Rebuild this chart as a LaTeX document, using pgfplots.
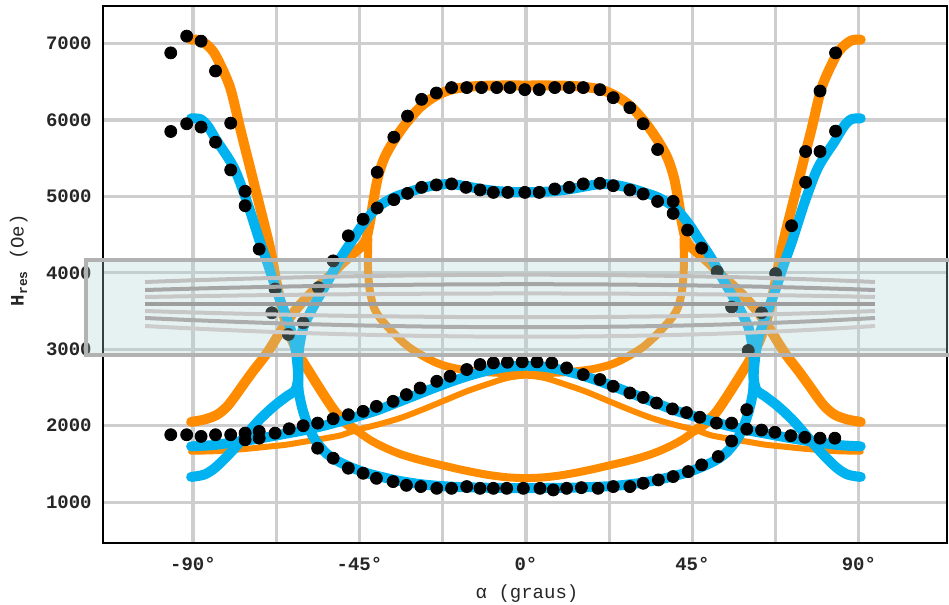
\documentclass[border=0pt]{standalone}
\usepackage{pgfplots}
\pgfplotsset{compat=1.18}
\usepackage{fontspec}
\setmonofont{Liberation Mono}
\definecolor{cor}{RGB}{255,140,0}
\definecolor{cbl}{RGB}{0,178,240}
\definecolor{bandfill}{RGB}{172,212,212}
\definecolor{gridc}{RGB}{206,206,206}
\definecolor{bandline}{RGB}{178,178,178}
\begin{document}
\begin{tikzpicture}
\path[use as bounding box] (-51.35pt,-30.85pt) rectangle (423.15pt,271.65pt);
\begin{axis}[
  scale only axis, width=422.3pt, height=268.65pt,
  xmin=-114.4, xmax=113.9, ymin=462, ymax=7490,
  axis line style={black, line width=0.9pt},
  xtick={-90,-45,0,45,90},
  xticklabels={-90°,-45°,0°,45°,90°},
  minor xtick={-67.5,-22.5,22.5,67.5},
  ytick={1000,2000,3000,4000,5000,6000,7000},
  yticklabels={1000,2000,3000,4000,5000,6000,7000},
  grid=both,
  major grid style={gridc, line width=1.6pt},
  minor grid style={gridc, line width=1.6pt},
  major tick length=0pt, minor tick length=0pt,
  tick label style={font=\ttfamily\bfseries\fontsize{9.5}{11}\selectfont, text=black!85},
  yticklabel style={xshift=-2pt},
  xticklabel style={yshift=-3.5pt},
  xlabel={α (graus)},
  ylabel={{\bfseries H}\raisebox{-0.35ex}{\fontsize{6.5}{7}\selectfont\bfseries res}~(Oe)},
  label style={font=\ttfamily\fontsize{9.5}{11}\selectfont, text=black!85},
  xlabel style={at={(axis description cs:0.5024,-0.093)}, anchor=center},
  ylabel style={at={(axis description cs:-0.0995,0.527)}, anchor=center},
]
% ---------- orange ----------
\addplot[cor, line width=5pt, line cap=round, line join=round, smooth] coordinates {
(-90.5,7050) (-88,7040) (-85.5,6950) (-83.6,6820) (-80,6430) (-77.3,5900) (-74.6,5380) (-71.9,4860) (-69.2,4330) (-67.3,3850) (-65.5,3450) (-63.5,3150) (-61,2900) (-58.5,2700) (-55,2430) (-51.5,2180) (-48.5,2030) (-46,1945)};
\addplot[cor, line width=5pt, line cap=round, line join=round, smooth] coordinates {
(46,1945) (48.5,2030) (51.5,2180) (55,2430) (58.5,2700) (61,2900) (63.5,3150) (65.5,3450) (67.3,3850) (69.2,4330) (71.9,4860) (74.6,5380) (77.3,5900) (80,6430) (83.6,6820) (85.5,6950) (88,7040) (90.5,7050)};
\addplot[cor, line width=3pt, line cap=round, line join=round, smooth] coordinates {
(-46,1945) (-40,2015) (-34,2100) (-28,2210) (-22,2330) (-16,2450) (-10,2550) (-5,2625) (0,2655) (5,2625) (10,2550) (16,2450) (22,2330) (28,2210) (34,2100) (40,2015) (46,1945)};
\addplot[cor, line width=4pt, line cap=round, line join=round, smooth] coordinates {
(-46,1945) (-42,1810) (-38,1710) (-34,1630) (-30,1570) (-26,1520) (-22,1475) (-18,1430) (-14,1390) (-10,1355) (-5,1325) (0,1315) (5,1325) (10,1355) (14,1390) (18,1430) (22,1475) (26,1520) (30,1570) (34,1630) (38,1710) (42,1810) (46,1945)};
\addplot[cor, line width=3pt, line cap=round, line join=round, smooth] coordinates {
(-90.5,1660) (-85,1665) (-80,1680) (-75,1700) (-70,1725) (-65,1750) (-60,1790) (-55,1830) (-50,1875) (-46,1945)};
\addplot[cor, line width=3pt, line cap=round, line join=round, smooth] coordinates {
(46,1945) (50,1875) (55,1830) (60,1790) (65,1750) (70,1725) (75,1700) (80,1680) (85,1665) (90.5,1660)};
\addplot[cor, line width=5pt, line cap=round, line join=round, smooth] coordinates {
(-90.5,2050) (-87,2080) (-83.6,2140) (-81,2240) (-79,2360) (-76.5,2530) (-73.8,2710) (-70,2950) (-65.7,3280) (-62.5,3500) (-59.2,3680) (-56,3830) (-53,3960) (-49.5,4130) (-46,4280) (-43.5,4400) (-42.2,4650) (-41.2,4950) (-40,5250) (-38.3,5500) (-35.8,5720) (-32.5,5950) (-28.5,6170) (-24.5,6310) (-20,6400) (-14,6440) (-7,6450) (0,6450) (7,6450) (14,6440) (20,6400) (24.5,6310) (28.5,6170) (32.5,5950) (35.8,5720) (38.3,5500) (40,5250) (41.2,4950) (42.2,4650) (43.5,4400) (46,4280) (49.5,4130) (53,3960) (56,3830) (59.2,3680) (62.5,3500) (65.7,3280) (70,2950) (73.8,2710) (76.5,2530) (79,2360) (81,2240) (83.6,2140) (87,2080) (90.5,2050)};
\addplot[cor, line width=4pt, line cap=round, line join=round, smooth] coordinates {
(-42.6,4450) (-42.7,4100) (-42.3,3800) (-41.2,3560) (-39.6,3420) (-37.5,3300) (-34.5,3150) (-31.4,3020) (-27,2890) (-23,2800) (-18,2740) (-12,2705) (-6,2690) (0,2688) (6,2690) (12,2705) (18,2740) (23,2800) (27,2890) (31.4,3020) (34.5,3150) (37.5,3300) (39.6,3420) (41.2,3560) (42.3,3800) (42.7,4100) (42.6,4450)};
% ---------- blue ----------
\addplot[cbl, line width=5pt, line cap=round, line join=round, smooth] coordinates {
(-90.5,6020) (-88,6010) (-86,5920) (-83.6,5730) (-79,5380) (-75.5,4945) (-72,4420) (-70,4150) (-68.3,3900) (-66.5,3650) (-64.7,3420) (-63.2,3200) (-62.2,2980) (-61.6,2700) (-61.4,2450) (-60.3,2200) (-58.5,1950) (-56.5,1780) (-54,1640) (-51,1540) (-47,1450) (-43,1380) (-39,1330) (-35,1285) (-30,1245) (-25,1218) (-20,1202) (-14,1192) (-7,1186) (0,1184) (7,1186) (14,1192) (20,1202) (25,1218) (30,1245) (35,1285) (39,1330) (43,1380) (47,1450) (51,1540) (54,1640) (56.5,1780) (58.5,1950) (60.3,2200) (61.4,2450) (61.6,2700) (62.2,2980) (63.2,3200) (64.7,3420) (66.5,3650) (68.3,3900) (70,4150) (72,4420) (75.5,4945) (79,5380) (83.6,5730) (86,5920) (88,6010) (90.5,6020)};
\addplot[cbl, line width=5pt, line cap=round, line join=round, smooth] coordinates {
(-90.5,1330) (-87,1360) (-84,1450) (-80,1640) (-76,1860) (-72,2080) (-68,2260) (-64.5,2390) (-62.3,2470) (-61.5,2650) (-61.6,2850) (-61.2,3050) (-60.2,3281) (-58.5,3460) (-56.6,3631) (-53,3937) (-50,4200) (-47,4420) (-44,4640) (-40.3,4850) (-36,4980) (-32,5050) (-28,5110) (-24,5150) (-20,5160) (-16,5130) (-12,5095) (-8,5070) (-4,5058) (0,5055) (4,5058) (8,5070) (12,5095) (16,5130) (20,5160) (24,5150) (28,5110) (32,5050) (36,4980) (40.3,4850) (44,4640) (47,4420) (50,4200) (53,3937) (56.6,3631) (58.5,3460) (60.2,3281) (61.2,3050) (61.6,2850) (61.5,2650) (62.3,2470) (64.5,2390) (68,2260) (72,2080) (76,1860) (80,1640) (84,1450) (87,1360) (90.5,1330)};
\addplot[cbl, line width=5pt, line cap=round, line join=round, smooth] coordinates {
(-90.5,1730) (-85,1745) (-80,1775) (-75,1810) (-70,1850) (-65,1895) (-60,1940) (-55,1995) (-50,2060) (-45,2130) (-40,2205) (-35,2300) (-30,2395) (-25,2490) (-20,2580) (-15,2660) (-10,2725) (-5,2770) (0,2785) (5,2770) (10,2725) (15,2660) (20,2580) (25,2490) (30,2395) (35,2300) (40,2205) (45,2130) (50,2060) (55,1995) (60,1940) (65,1895) (70,1850) (75,1810) (80,1775) (85,1745) (90.5,1730)};
% ---------- data ----------
\addplot[only marks, mark=*, mark size=3pt, black] coordinates {
(-96,6877) (-91.7,7096) (-87.8,7030) (-83.9,6640) (-79.8,5958)
(-96,5849) (-91.7,5950) (-87.8,5906) (-83.9,5709) (-79.8,5346) (-75.9,5066) (-75.9,4878) (-72.1,4310) (-67.8,3788) (-68.7,3477) (-64.2,3194) (-60.2,3346) (-56.1,3806) (-52.1,4156) (-48,4484) (-44,4700) (-40.2,4848) (-35.7,4957) (-32,5039) (-28.2,5118) (-24.2,5150) (-20.1,5163) (-16.2,5118) (-12.4,5084) (-8.8,5052) (-4.9,5052) (-0.3,5052) (3.6,5052) (7.8,5097) (11.7,5118) (15.5,5163) (20,5171) (23.6,5140) (28.1,5084) (31.7,5031) (35.6,4934) (39.8,4934) (39.8,4777) (43.7,4559) (47.5,4323) (51.7,4016) (55.6,3552) (60.1,2984) (63.7,3478) (67.5,3990) (71.8,4616) (75.6,5184) (75.6,5587) (79.5,5587) (83.7,5853)
(-40.2,5315) (-35.7,5774) (-32,6050) (-28.2,6269) (-24.2,6352) (-20.1,6423) (-16,6423) (-12,6423) (-7.9,6423) (-4.3,6423) (-0.3,6396) (3.6,6396) (7.8,6423) (11.7,6423) (15.5,6423) (20,6396) (23.6,6291) (28.1,6160) (31.7,5950) (35.6,5613) (79.5,6378) (83.7,6877)
(-96,1882) (-91.7,1882) (-87.8,1860) (-83.9,1882) (-79.8,1882) (-75.9,1903) (-75.9,1816) (-72.1,1837) (-72.1,1925) (-67.8,1903) (-64,1960) (-60.2,2000) (-56.3,2034) (-52.1,2091) (-48,2144) (-44,2188) (-40.4,2253) (-35.9,2319) (-32.3,2407) (-28.6,2493) (-24.1,2581) (-20.5,2647) (-16,2735) (-12.4,2800) (-8.8,2822) (-5,2830) (-1,2835) (3,2835) (7,2822) (11,2756) (15.5,2669) (20,2604) (23.6,2516) (28.1,2428) (31.7,2370) (35.3,2297) (39.6,2220) (43.4,2172) (47,2111) (51.5,2034) (55.6,2034) (59.7,2210) (59.7,1955) (63.7,1943) (67.3,1914) (71.6,1870) (75.4,1848) (79.5,1837) (83.5,1837)
(55.6,1800) (52,1597) (47.5,1488) (43.9,1400) (39.8,1335) (35.8,1291) (31.7,1247) (28.1,1204) (23.6,1204) (19.5,1181) (15,1190) (11,1181) (7.4,1160) (3.8,1181) (-0.7,1181) (-5.2,1181) (-8.8,1181) (-12.4,1181) (-16,1204) (-20.1,1181) (-24.1,1181) (-28.4,1204) (-32.3,1220) (-35.9,1269) (-40.4,1312) (-44,1378) (-48,1444) (-52.1,1575) (-56.3,1706)
};
\end{axis}
% ---------- overlay band ----------
\fill[bandfill, fill opacity=0.3] (-8.35pt,94.15pt) rectangle (430pt,141.65pt);
\begin{scope}[line width=2pt, line cap=butt]
\draw[black!25] (21.2pt,130.65pt) .. controls (150pt,135.5pt) and (280pt,135.5pt) .. (386.15pt,130.65pt);
\draw[black!35] (21.2pt,126.65pt) .. controls (150pt,130.5pt) and (280pt,130.5pt) .. (386.15pt,126.65pt);
\draw[black!22] (21.2pt,123.15pt) .. controls (150pt,125.5pt) and (280pt,125.5pt) .. (386.15pt,123.15pt);
\draw[black!38] (21.2pt,119.65pt) -- (386.15pt,119.65pt);
\draw[black!22] (21.2pt,116.15pt) .. controls (150pt,112pt) and (280pt,112pt) .. (386.15pt,116.15pt);
\draw[black!32] (21.2pt,112.65pt) .. controls (150pt,106.5pt) and (280pt,106.5pt) .. (386.15pt,112.65pt);
\draw[black!20] (21.2pt,108.65pt) .. controls (150pt,101.5pt) and (280pt,101.5pt) .. (386.15pt,108.65pt);
\end{scope}
\draw[bandline, line width=2pt] (-8.35pt,94.15pt) rectangle (430pt,141.65pt);
\end{tikzpicture}
\end{document}
